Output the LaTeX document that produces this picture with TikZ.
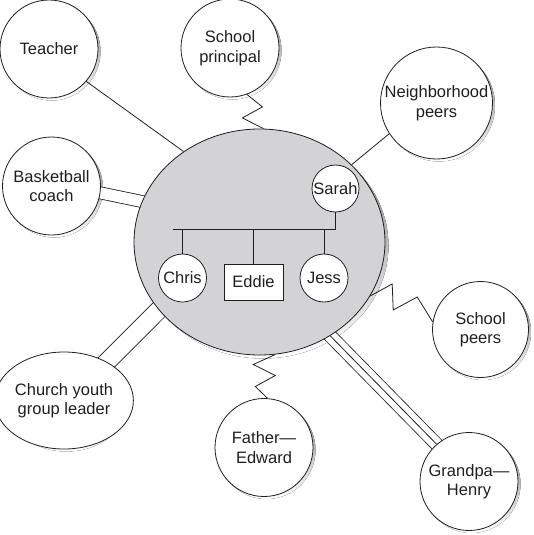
\documentclass[tikz,border=0pt]{standalone}
\usepackage{fontspec}
\setmainfont{Liberation Sans}
\usetikzlibrary{shapes.geometric}
\pgfdeclarelayer{shadow}
\pgfdeclarelayer{lines}
\pgfsetlayers{shadow,lines,main}
\definecolor{ink}{gray}{0.12}
\definecolor{famfill}{RGB}{211,211,213}
\definecolor{shade}{gray}{0.88}
\begin{document}
\begin{tikzpicture}[x=1pt,y=-1pt,
  every node/.style={font=\fontsize{16.5}{19.5}\selectfont, text=ink},
  person/.style={circle, draw=ink, line width=0.8pt, fill=white, inner sep=0pt, minimum size=98pt, align=center},
  member/.style={circle, draw=ink, line width=0.8pt, fill=white, inner sep=0pt, minimum size=48pt},
  tie/.style={draw=ink, line width=0.8pt},
  wide/.style={shorten <=-4pt, shorten >=-4pt}
]
\useasboundingbox (0,0) rectangle (534,535);

% outer network
\node[person] (teacher) at (49,49) {Teacher};
\node[person] (principal) at (230,48) {School\\principal};
\node[person, minimum size=112pt] (neigh) at (436.5,103) {Neighborhood\\peers};
\node[person] (coach) at (51.5,186) {Basketball\\coach};
\node[person, ellipse, minimum width=122pt, minimum height=97pt] (church) at (64,400.5) {Church youth\\group leader};
\node[person] (father) at (264,447.5) {Father—\\Edward};
\node[person] (grandpa) at (469,481.5) {Grandpa—\\Henry};
\node[person, minimum size=96pt] (speers) at (480.5,329.5) {School\\peers};

% household
\node[ellipse, draw=ink, line width=0.8pt, fill=famfill, minimum width=251pt, minimum height=226pt, inner sep=0pt] (family) at (259.5,242) {};
\node[member, minimum size=47pt] (sarah) at (335.5,188.5) {Sarah};
\node[member] (chris) at (182.5,278) {Chris};
\node[rectangle, draw=ink, line width=0.8pt, fill=white, minimum width=59pt, minimum height=36pt, inner sep=0pt] (eddie) at (253.5,282) {Eddie};
\node[member] (jess) at (324,278) {Jess};
\coordinate (barL) at (172.7,229.5);
\draw[tie] (sarah.south) -- (sarah.south |- barL) -- (barL);
\draw[tie] (chris.north) -- (chris.north |- barL);
\draw[tie] (eddie.north) -- (eddie.north |- barL);
\draw[tie] (jess.north) -- (jess.north |- barL);

% shadows
\begin{pgfonlayer}{shadow}
\foreach \n/\r in {teacher/49, principal/49, neigh/56, coach/49, father/49, grandpa/49, speers/48}
  \fill[shade] ([shift={(2.5,2.5)}]\n.center) circle (\r pt);
\fill[shade] ([shift={(2.5,2.5)}]church.center) ellipse (61pt and 48.5pt);
\fill[shade] ([shift={(3.5,3.5)}]family.center) ellipse (125.5pt and 113pt);
\end{pgfonlayer}

% connectors
\begin{pgfonlayer}{lines}
\draw[tie] (teacher.-41.8) -- (family.130.7);
\draw[tie] (principal.-70.5) -- ++(15.5,12.5) -- ++(-20,11) -- (family.88.7);
\draw[tie] (neigh.213) -- (family.40.8);
\draw[tie, wide, double=white, double distance=11.2pt] (coach.-8.1) -- (family.161.7);
\draw[tie, wide, double=white, double distance=17.2pt] (church.42.5) -- (family.214.5);
\draw[tie, wide, double=white, double distance=12.2pt] (family.-53.4) -- (grandpa.131.2);
\draw[tie, wide] (family.-53.4) -- (grandpa.131.2);
\draw[tie] (family.-26.5) -- ++(22,-12) -- ++(1,26) -- ++(24,-13) -- (speers.171.2);
\draw[tie] (family.-82.3) -- ++(-22,10) -- ++(22,11) -- ++(-20,11) -- (father.86.5);
\end{pgfonlayer}
\end{tikzpicture}
\end{document}
